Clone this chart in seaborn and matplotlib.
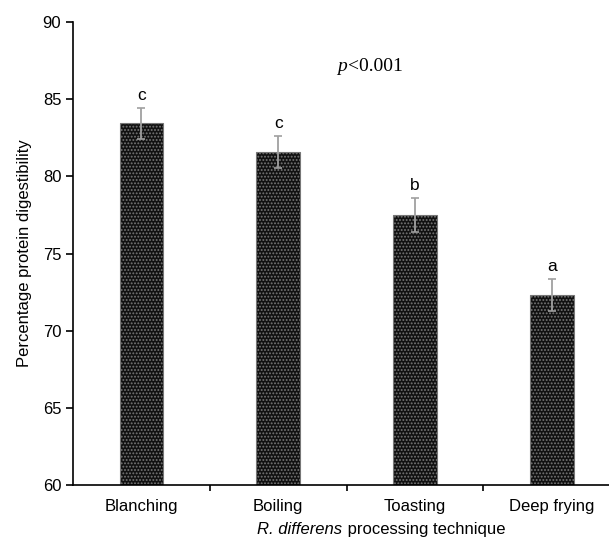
import matplotlib
matplotlib.use("Agg")
import matplotlib.pyplot as plt
import seaborn as sns
import pandas as pd

# data
techniques = ["Blanching", "Boiling", "Toasting", "Deep frying"]
digestibility = [83.45, 81.6, 77.5, 72.3]
errors = [1.0, 1.05, 1.1, 1.05]
letters = ["c", "c", "b", "a"]

df = pd.DataFrame({"Technique": techniques, "Digestibility": digestibility})

sns.set_theme(style="ticks")
plt.rcParams["font.family"] = ["Liberation Sans", "DejaVu Sans"]
plt.rcParams["text.color"] = "black"
plt.rcParams["axes.labelcolor"] = "black"
plt.rcParams["hatch.color"] = "#9a9a9a"
plt.rcParams["hatch.linewidth"] = 0.9

fig = plt.figure(figsize=(6.09, 5.40), dpi=100)
ax = fig.add_axes([0.12, 0.102, 0.885, 0.857])

sns.barplot(data=df, x="Technique", y="Digestibility", color="#111111",
            width=0.32, edgecolor="#777777", linewidth=0.8, ax=ax)
for bar in ax.patches:
    bar.set_hatch(".....")
    bar.set_facecolor("#111111")

ax.errorbar(range(len(techniques)), digestibility, yerr=errors, fmt="none",
            ecolor="#a0a0a0", elinewidth=1.3, capsize=3, capthick=1.2)

for i, (v, e, lab) in enumerate(zip(digestibility, errors, letters)):
    ax.text(i, v + e + 0.3, lab, ha="center", va="bottom", fontsize=12.5)

ax.text(1.43, 87.1, "p", fontstyle="italic", family=["Liberation Serif"],
        fontsize=14, ha="left", va="center")
ax.text(1.51, 87.1, "<0.001", family=["Liberation Serif"],
        fontsize=14, ha="left", va="center")

ax.set_ylim(60, 90)
ax.set_yticks(range(60, 91, 5))
ax.set_xlim(-0.5, 3.44)
ax.set_xticks([0.5, 1.5, 2.5], minor=False)
ax.set_xticklabels([])
ax.set_xticks(range(4), minor=True)
ax.set_xticklabels(techniques, minor=True)
ax.tick_params(axis="x", which="minor", length=0, pad=10, labelsize=12,
               labelcolor="black")
ax.tick_params(axis="x", which="major", length=4, width=1.2, color="black")
ax.tick_params(axis="y", length=5, width=1.2, labelsize=12, colors="black")

ax.set_xlabel("")
ax.set_ylabel("Percentage protein digestibility", fontsize=12, labelpad=8)
ax.text(0.5, -0.097, "R. differens", transform=ax.transAxes, fontsize=12,
        fontstyle="italic", ha="right", va="center")
ax.text(0.5, -0.097, " processing technique", transform=ax.transAxes,
        fontsize=12, ha="left", va="center")

for side in ["left", "bottom"]:
    ax.spines[side].set_linewidth(1.2)
    ax.spines[side].set_color("black")
ax.spines["top"].set_visible(False)
ax.spines["right"].set_visible(False)

plt.savefig("out.png", dpi=100)
plt.close()
